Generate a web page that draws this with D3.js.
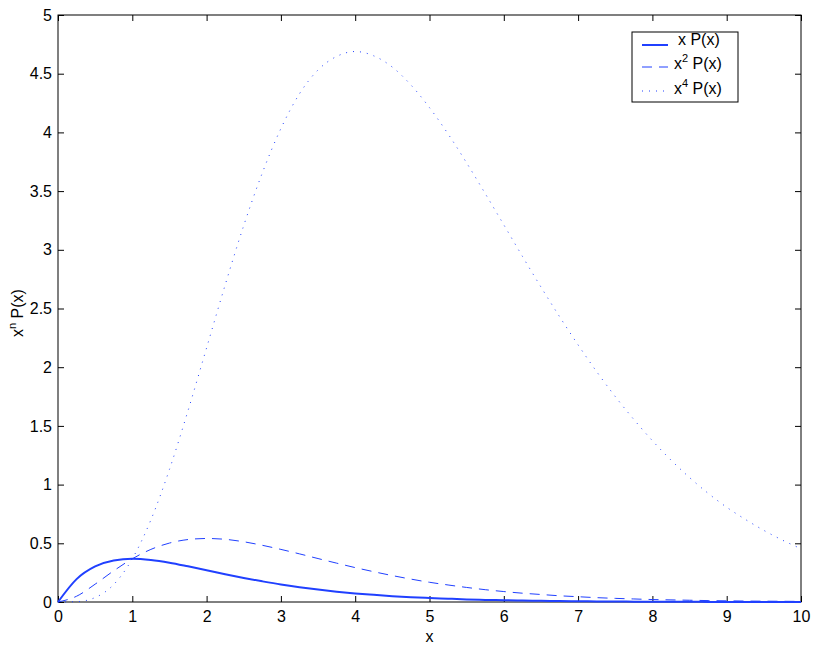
<!DOCTYPE html>
<html>
<head>
<meta charset="utf-8">
<script src="https://cdn.jsdelivr.net/npm/d3@7"></script>
<style>
  body { margin: 0; background: #fff; }
  svg { display: block; font-family: "Liberation Sans", Arial, sans-serif; }
  .axis text { font-size: 16px; fill: #000; }
  .axis line { stroke: #000; }
</style>
</head>
<body>
<div id="chart"></div>
<script>
// x positions (read every 0.25)
const xValues = [0, 0.25, 0.5, 0.75, 1, 1.25, 1.5, 1.75, 2, 2.25, 2.5, 2.75, 3, 3.25, 3.5, 3.75,
  4, 4.25, 4.5, 4.75, 5, 5.25, 5.5, 5.75, 6, 6.25, 6.5, 6.75, 7, 7.25, 7.5, 7.75,
  8, 8.25, 8.5, 8.75, 9, 9.25, 9.5, 9.75, 10];

// x P(x)
const xP = [0, 0.195, 0.303, 0.354, 0.368, 0.358, 0.335, 0.304, 0.271, 0.237, 0.205, 0.176, 0.149, 0.126, 0.106, 0.088,
  0.073, 0.061, 0.050, 0.041, 0.034, 0.028, 0.022, 0.018, 0.015, 0.012, 0.010, 0.008, 0.006, 0.005, 0.004, 0.003,
  0.003, 0.002, 0.002, 0.001, 0.001, 0.001, 0.001, 0.001, 0.000];

// x^2 P(x)
const x2P = [0, 0.049, 0.152, 0.266, 0.368, 0.448, 0.502, 0.532, 0.541, 0.534, 0.513, 0.483, 0.448, 0.410, 0.370, 0.331,
  0.293, 0.258, 0.225, 0.195, 0.168, 0.145, 0.124, 0.105, 0.089, 0.075, 0.064, 0.053, 0.045, 0.037, 0.031, 0.026,
  0.021, 0.018, 0.015, 0.012, 0.010, 0.008, 0.007, 0.006, 0.005];

// x^4 P(x)
const x4P = [0, 0.003, 0.038, 0.149, 0.368, 0.699, 1.129, 1.630, 2.165, 2.701, 3.207, 3.655, 4.033, 4.329, 4.532, 4.647,
  4.689, 4.652, 4.556, 4.404, 4.211, 3.987, 3.740, 3.479, 3.213, 2.945, 2.683, 2.431, 2.190, 1.962, 1.750, 1.555,
  1.374, 1.209, 1.060, 0.926, 0.807, 0.704, 0.610, 0.527, 0.454];

const xTicks = [0, 1, 2, 3, 4, 5, 6, 7, 8, 9, 10];
const yTicks = [0, 0.5, 1, 1.5, 2, 2.5, 3, 3.5, 4, 4.5, 5];

const W = 817, H = 647;
const margin = { top: 15, right: 16, bottom: 45, left: 58 };
const width = W - margin.left - margin.right;
const height = H - margin.top - margin.bottom;
const blue = "#2040ff";

const svg = d3.select("#chart").append("svg")
    .attr("width", W)
    .attr("height", H);

const g = svg.append("g")
    .attr("transform", `translate(${margin.left},${margin.top})`);

const xScale = d3.scaleLinear().domain([0, 10]).range([0, width]);
const yScale = d3.scaleLinear().domain([0, 5]).range([height, 0]);

// axes, ticks pointing inward on all four sides
g.append("g")
    .attr("class", "axis")
    .attr("transform", `translate(0,${height})`)
    .call(d3.axisBottom(xScale).tickValues(xTicks).tickFormat(d3.format("d"))
        .tickSizeInner(-6).tickSizeOuter(0).tickPadding(9))
    .call(a => a.select(".domain").remove());

g.append("g")
    .attr("class", "axis")
    .call(d3.axisTop(xScale).tickValues(xTicks).tickFormat("")
        .tickSizeInner(-6).tickSizeOuter(0))
    .call(a => a.select(".domain").remove());

g.append("g")
    .attr("class", "axis")
    .call(d3.axisLeft(yScale).tickValues(yTicks).tickFormat(d => d)
        .tickSizeInner(-6).tickSizeOuter(0).tickPadding(6))
    .call(a => a.select(".domain").remove());

g.append("g")
    .attr("class", "axis")
    .attr("transform", `translate(${width},0)`)
    .call(d3.axisRight(yScale).tickValues(yTicks).tickFormat("")
        .tickSizeInner(-6).tickSizeOuter(0))
    .call(a => a.select(".domain").remove());

// frame
g.append("rect")
    .attr("x", 0).attr("y", 0)
    .attr("width", width).attr("height", height)
    .attr("fill", "none")
    .attr("stroke", "#000")
    .attr("stroke-width", 1);

// curves
const series = [
  { values: xP, width: 2, dash: null },
  { values: x2P, width: 1, dash: "10,7" },
  { values: x4P, width: 1, dash: "1,6" }
];

const line = d3.line()
    .x(d => xScale(d[0]))
    .y(d => yScale(d[1]))
    .curve(d3.curveMonotoneX);

series.forEach(s => {
  g.append("path")
      .datum(xValues.map((x, i) => [x, s.values[i]]))
      .attr("fill", "none")
      .attr("stroke", blue)
      .attr("stroke-width", s.width)
      .attr("stroke-dasharray", s.dash)
      .attr("d", line);
});

// axis labels
svg.append("text")
    .attr("x", margin.left + width / 2)
    .attr("y", 642)
    .attr("text-anchor", "middle")
    .style("font-size", "16px")
    .text("x");

const yLab = svg.append("text")
    .attr("transform", `translate(23,313) rotate(-90)`)
    .attr("text-anchor", "middle")
    .style("font-size", "16px");
yLab.append("tspan").text("x");
yLab.append("tspan").attr("dy", -7).style("font-size", "11px").text("n");
yLab.append("tspan").attr("dy", 7).text(" P(x)");

// legend
const legend = svg.append("g").attr("transform", "translate(632,32)");
legend.append("rect")
    .attr("width", 106).attr("height", 70)
    .attr("fill", "#fff")
    .attr("stroke", "#000");

const legendItems = [
  { sup: null, ly: 13, ty: 13, tx: 46 },
  { sup: "2", ly: 35, ty: 37, tx: 42 },
  { sup: "4", ly: 59, ty: 62, tx: 42 }
];

legendItems.forEach((d, i) => {
  legend.append("line")
      .attr("x1", 10).attr("x2", 36)
      .attr("y1", d.ly).attr("y2", d.ly)
      .attr("stroke", blue)
      .attr("stroke-width", series[i].width)
      .attr("stroke-dasharray", series[i].dash);
  const t = legend.append("text")
      .attr("x", d.tx)
      .attr("y", d.ty)
      .style("font-size", "16px");
  t.append("tspan").text("x");
  if (d.sup) {
    t.append("tspan").attr("dy", -7).style("font-size", "11px").text(d.sup);
    t.append("tspan").attr("dy", 7).text(" P(x)");
  } else {
    t.append("tspan").text(" P(x)");
  }
});
</script>
</body>
</html>
